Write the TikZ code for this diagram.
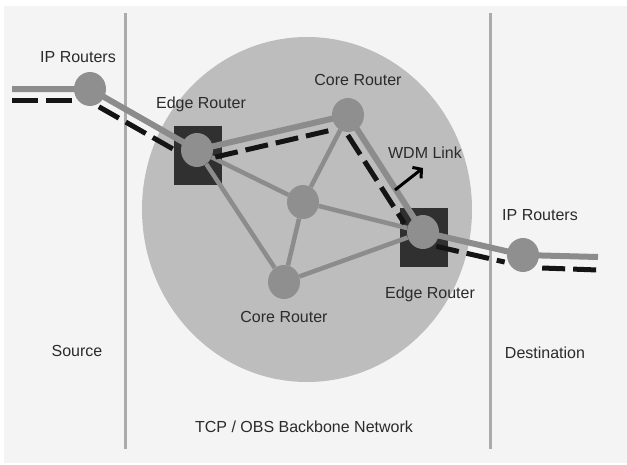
\documentclass[tikz,border=0pt]{standalone}
\usepackage{fontspec}
\setmainfont{Liberation Sans}
\usetikzlibrary{shapes.geometric,arrows.meta}
\definecolor{panel}{HTML}{F4F4F4}
\definecolor{cloud}{HTML}{BDBDBD}
\definecolor{linkgray}{HTML}{8C8C8C}
\definecolor{nodegray}{HTML}{8F8F8F}
\definecolor{boxdark}{HTML}{303030}
\definecolor{divgray}{HTML}{ABABAB}
\definecolor{txt}{HTML}{2B2B2B}
\pgfdeclarelayer{bg}
\pgfdeclarelayer{links}
\pgfsetlayers{bg,links,main}
\tikzset{
  router/.style={ellipse, fill=nodegray, draw=none, minimum width=32pt, minimum height=34pt, inner sep=0pt},
  edgebox/.style={rectangle, fill=boxdark, draw=none, minimum width=48pt, minimum height=59pt, inner sep=0pt},
  label/.style={text=txt, font=\fontsize{16}{19}\selectfont, inner sep=0pt, anchor=base},
  mainlink/.style={draw=linkgray, line width=6pt},
  meshlink/.style={draw=linkgray, line width=4.5pt},
  burst/.style={draw=black!92, line width=5pt, dash pattern=on 23pt off 8pt},
  divider/.style={draw=divgray, line width=3pt},
}
\begin{document}
\begin{tikzpicture}[x=1pt,y=-1pt]
\useasboundingbox (0,0) rectangle (627,464);
\begin{pgfonlayer}{bg}
  % backdrop panel and backbone cloud
  \fill[panel] (4,6) rectangle (627,463);
  \fill[cloud] (307,209.5) ellipse [x radius=165, y radius=172.5];
  % domain dividers
  \coordinate (divLtop) at (125,13);
  \coordinate (divLbot) at (125,449);
  \coordinate (divRtop) at (490,13);
  \coordinate (divRbot) at (490,449);
  \draw[divider] (divLtop) -- (divLbot);
  \draw[divider] (divRtop) -- (divRbot);
  % edge router housings
  \node[edgebox] (eLbox) at (198,155.5) {};
  \node[edgebox] (eRbox) at (424,237.5) {};
\end{pgfonlayer}

% routers
\node[router] (ipL) at (90,89) {};
\node[router] (eL) at (197,150) {};
\node[router] (cT) at (348,115) {};
\node[router] (cM) at (303,202) {};
\node[router] (cB) at (284,282) {};
\node[router] (eR) at (423,232) {};
\node[router] (ipR) at (523,255) {};
\coordinate (inL) at (12,89);
\coordinate (outR) at (598,257);

\begin{pgfonlayer}{links}
  % mesh links of the backbone
  \draw[meshlink] (eL) -- (cM);
  \draw[meshlink] (eL) -- (cB);
  \draw[meshlink] (cM) -- (cT);
  \draw[meshlink] (cM) -- (cB);
  \draw[meshlink] (cM) -- (eR);
  \draw[meshlink] (cB) -- (eR);
  % end-to-end route
  \draw[mainlink] (inL) -- (ipL.center) -- (eL.center) -- (cT.center) -- (eR.center) -- (ipR.center) -- (outR);
  % burst path running alongside the route
  \draw[burst, dash pattern=on 26pt off 8pt, transform canvas={shift={(0,11)}}] (inL) -- (ipL);
  \draw[burst, transform canvas={shift={(-5.4,9.6)}}] (ipL) -- (eL);
  \draw[burst, transform canvas={shift={(2.5,10.7)}}] (eL) -- (cT);
  \draw[burst, transform canvas={shift={(-9.3,5.9)}}] (cT) -- (eR);
  \draw[burst, transform canvas={shift={(-2.5,10.7)}}] (eR) -- (ipR);
  \draw[burst, transform canvas={shift={(0,13)}}] ([xshift=3pt]ipR.east) -- (outR);
\end{pgfonlayer}

% WDM link pointer
\coordinate (wdmTail) at (395,190);
\coordinate (wdmTip) at (423,168);
\draw[line width=3pt, -{Straight Barb[length=6pt,width=14pt]}] (wdmTail) -- (wdmTip);

% labels
\node[label] (ipLlab) at (78,62) {IP Routers};
\node[label] (eLlab) at (201,108) {Edge Router};
\node[label] (cTlab) at (358,85) {Core Router};
\node[label] (wdm) at (425,158) {WDM Link};
\node[label] (eRlab) at (430,298) {Edge Router};
\node[label] (ipRlab) at (540,220) {IP Routers};
\node[label] (cBlab) at (284,322) {Core Router};
\node[label] (src) at (77,356) {Source};
\node[label] (dst) at (545,358) {Destination};
\node[label] (tcp) at (304,432) {TCP / OBS Backbone Network};
\end{tikzpicture}
\end{document}
